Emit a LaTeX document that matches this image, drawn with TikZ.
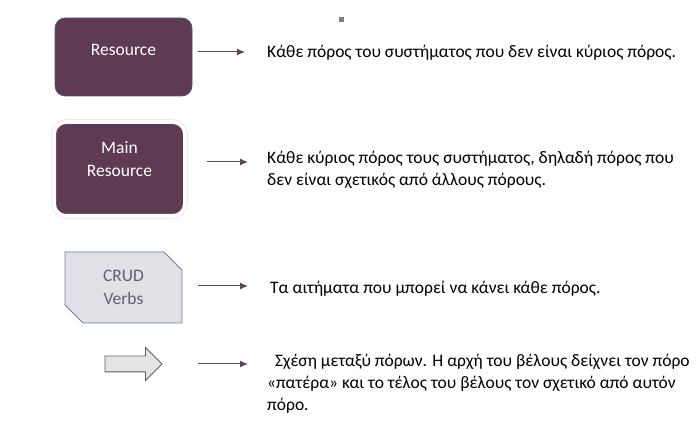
\documentclass[tikz,border=0pt]{standalone}
\usepackage{fontspec}
\setmainfont{Carlito}
\usepackage{xcolor}
\definecolor{plum}{RGB}{94,58,84}
\definecolor{plumedge}{RGB}{76,90,120}
\definecolor{crudfill}{RGB}{224,224,230}
\definecolor{crudedge}{RGB}{106,127,154}
\definecolor{crudtext}{RGB}{96,96,110}
\definecolor{arrowfill}{RGB}{228,228,228}
\definecolor{arrowedge}{RGB}{96,96,96}
\definecolor{linkcol}{RGB}{90,70,90}
\usetikzlibrary{shapes.misc,shapes.arrows,arrows.meta}

\begin{document}
\begin{tikzpicture}[
        x=1pt, y=-1pt,
        font=\fontsize{17.5}{22}\selectfont,
        resbox/.style={rectangle, rounded corners=10pt, fill=plum, draw=plumedge, line width=0.6pt,
            text=white, align=center, minimum width=137pt, minimum height=78pt},
        mainbox/.style={rectangle, rounded corners=12pt, fill=plum, draw=white, line width=4pt,
            text=white, align=center, minimum width=131pt, minimum height=94pt,
            preaction={draw=black!10, line width=5.5pt}},
        verbbox/.style={chamfered rectangle, chamfered rectangle corners={north east,south west},
            chamfered rectangle xsep=9pt, chamfered rectangle ysep=9pt,
            fill=crudfill, draw=crudedge, line width=0.8pt, text=crudtext, align=center,
            minimum width=117pt, minimum height=71pt, inner sep=0pt},
        relarrow/.style={single arrow, single arrow head extend=8.5pt, single arrow head indent=0pt,
            fill=arrowfill, draw=arrowedge, line width=0.8pt, minimum height=57pt,
            inner xsep=0pt, inner ysep=7.5pt, shape border rotate=0},
        desc/.style={anchor=base west, align=left, inner sep=0pt},
        link/.style={draw=linkcol, line width=1pt, -{Latex[length=8pt,width=7pt]}}
    ]
    \useasboundingbox (0,0) rectangle (699,446);
    \fill[black!50] (339,17) rectangle (344,22);

    \node[resbox] (res) at (123.5,57) {\raisebox{1.5pt}[0pt][0pt]{Resource}};
    \node[mainbox] (mainres) at (119.5,169) {\raisebox{4pt}[0pt][0pt]{\begin{tabular}{@{}c@{}}Main\\[1pt]Resource\end{tabular}}};
    \node[verbbox] (verbs) at (123.5,287.5) {CRUD\\[1pt]Verbs};
    \node[relarrow] (rel) at (129.5,364) {};

    \node[desc] (restext) at (267,58) {Κάθε πόρος του συστήματος που δεν είναι κύριος πόρος.};
    \node[desc] (maintext) at (267,186) {Κάθε κύριος πόρος τους συστήματος, δηλαδή πόρος που\\δεν είναι σχετικός από άλλους πόρους.};
    \node[desc] (verbtext) at (270,294) {Τα αιτήματα που μπορεί να κάνει κάθε πόρος.};
    \node[desc] (reltext) at (267,410) {\hspace{8pt}Σχέση μεταξύ πόρων. Η αρχή του βέλους δείχνει τον πόρο\\«πατέρα» και το τέλος του βέλους τον σχετικό από αυτόν\\πόρο.};

    \coordinate (a1) at (198,52);
    \coordinate (b1) at (245,52);
    \coordinate (a2) at (207,162);
    \coordinate (b2) at (248,162);
    \coordinate (a3) at (198,286);
    \coordinate (b3) at (248,286);
    \coordinate (a4) at (198,364);
    \coordinate (b4) at (248,364);
    \draw[link] (a1) -- (b1);
    \draw[link] (a2) -- (b2);
    \draw[link] (a3) -- (b3);
    \draw[link] (a4) -- (b4);
\end{tikzpicture}
\end{document}
